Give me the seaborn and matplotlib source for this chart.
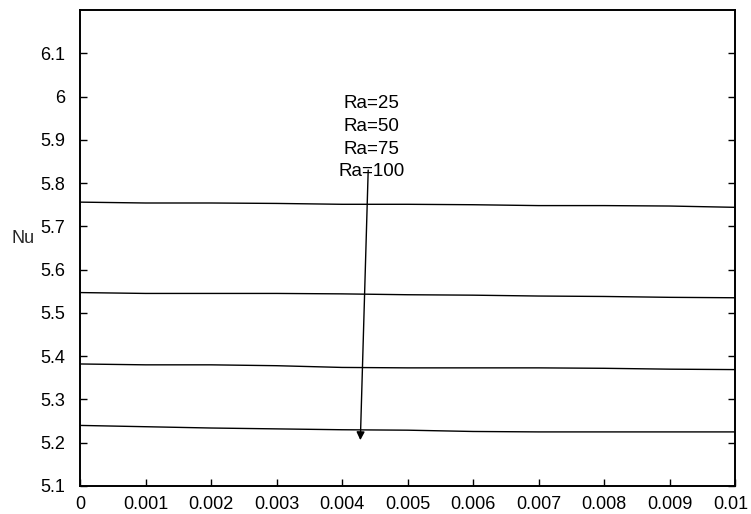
import numpy as np
import pandas as pd
import matplotlib
matplotlib.use("Agg")
import matplotlib.pyplot as plt
import matplotlib.transforms as mtransforms
import seaborn as sns

x_vals = [0.0, 0.001, 0.002, 0.003, 0.004, 0.005, 0.006, 0.007, 0.008, 0.009, 0.010]
nu_ra100 = [5.756, 5.754, 5.754, 5.753, 5.751, 5.751, 5.750, 5.748, 5.748, 5.747, 5.744]
nu_ra75 = [5.547, 5.545, 5.545, 5.545, 5.544, 5.542, 5.541, 5.539, 5.538, 5.536, 5.535]
nu_ra50 = [5.382, 5.380, 5.380, 5.378, 5.374, 5.373, 5.373, 5.373, 5.372, 5.370, 5.369]
nu_ra25 = [5.240, 5.237, 5.234, 5.232, 5.230, 5.229, 5.226, 5.225, 5.225, 5.225, 5.225]
series_names = ["Ra=25", "Ra=50", "Ra=75", "Ra=100"]
x_ticks = [0, 0.001, 0.002, 0.003, 0.004, 0.005, 0.006, 0.007, 0.008, 0.009, 0.01]
x_tick_labels = ["0", "0.001", "0.002", "0.003", "0.004", "0.005", "0.006", "0.007", "0.008", "0.009", "0.01"]
y_ticks = [5.1, 5.2, 5.3, 5.4, 5.5, 5.6, 5.7, 5.8, 5.9, 6.0, 6.1]
y_tick_labels = ["5.1", "5.2", "5.3", "5.4", "5.5", "5.6", "5.7", "5.8", "5.9", "6", "6.1"]

df = pd.DataFrame({
    "x": x_vals * 4,
    "Nu": nu_ra25 + nu_ra50 + nu_ra75 + nu_ra100,
    "Ra": sum([[n] * len(x_vals) for n in series_names], []),
})

sns.set_theme(style="white")
plt.rcParams["font.family"] = ["Liberation Sans", "DejaVu Sans"]

fig = plt.figure(figsize=(7.51, 5.14), dpi=100)
ax = fig.add_axes([80 / 751, 28 / 514, (735 - 80) / 751, (486 - 10) / 514])

sns.lineplot(data=df, x="x", y="Nu", units="Ra", estimator=None,
             color="black", linewidth=1.0, ax=ax, legend=False)

ax.set_xlim(0, 0.01)
ax.set_ylim(5.1, 6.2)
ax.set_xticks(x_ticks)
ax.set_xticklabels(x_tick_labels)
ax.set_yticks(y_ticks)
ax.set_yticklabels(y_tick_labels)
ax.tick_params(direction="in", length=5, width=1.0, colors="black",
               labelsize=13, top=False, right=True, bottom=True, left=True)
ax.tick_params(axis="y", pad=10.5)
ax.tick_params(axis="x", pad=7)
for s in ax.spines.values():
    s.set_color("black")
    s.set_linewidth(1.4)

# keep the last x tick label inside the figure
last = ax.get_xticklabels()[-1]
last.set_transform(last.get_transform() +
                   mtransforms.ScaledTranslation(-4 / 100, 0, fig.dpi_scale_trans))

ax.set_xlabel("")
ax.set_ylabel("Nu", rotation=0, fontsize=13, va="center", ha="center")
ax.yaxis.set_label_coords(-0.087, 0.521)

# annotation
label_text = "\n".join(series_names)
ax.text(0.004455, 5.905, label_text, ha="center", va="center", fontsize=13.5,
        linespacing=1.45, color="black")
ax.annotate("", xy=(0.00428, 5.206), xytext=(0.0044, 5.830),
            arrowprops=dict(arrowstyle="-|>", color="black", lw=1.0,
                            mutation_scale=12, shrinkA=0, shrinkB=0))

fig.savefig("out.png", dpi=100)
